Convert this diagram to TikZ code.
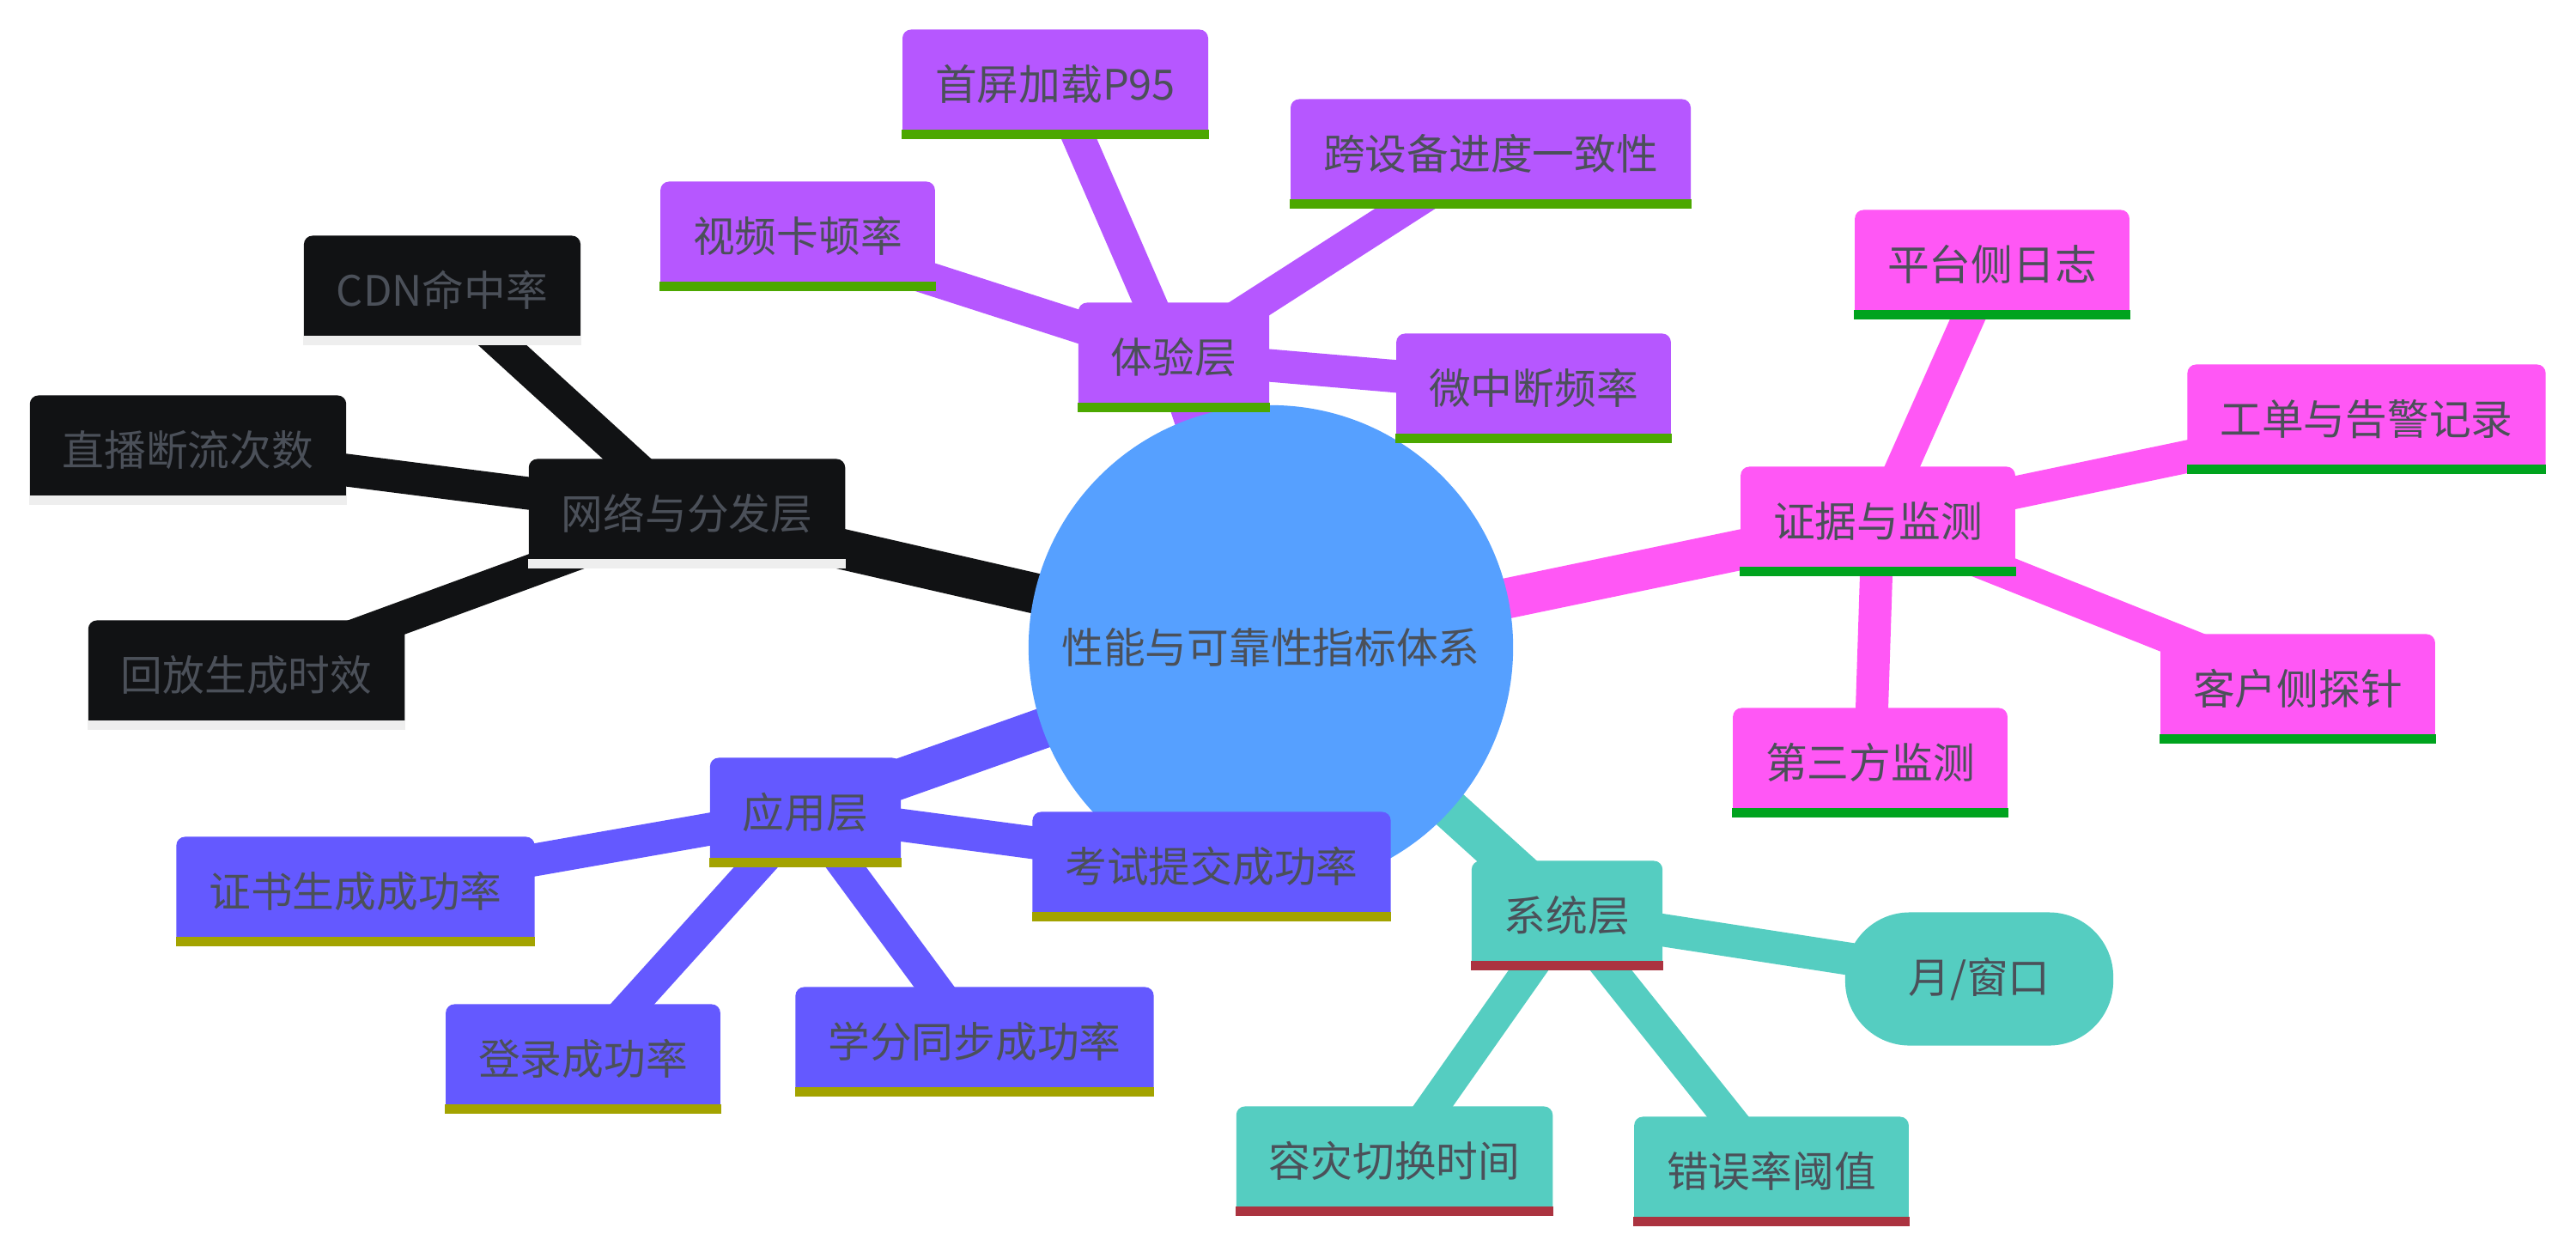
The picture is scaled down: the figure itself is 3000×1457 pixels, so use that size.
\documentclass[tikz,border=0pt]{standalone}
\usepackage{fontspec}
\setmainfont{Noto Sans CJK SC}
\usetikzlibrary{backgrounds}

\definecolor{rootblue}{HTML}{56A0FF}
\definecolor{purp}{HTML}{B657FF}
\definecolor{inky}{HTML}{111214}
\definecolor{magen}{HTML}{FF57F5}
\definecolor{indig}{HTML}{6459FF}
\definecolor{tealc}{HTML}{55CDC1}
\definecolor{ulgreen}{HTML}{4CA800}
\definecolor{ulgrey}{HTML}{EEEEEE}
\definecolor{ulgreentwo}{HTML}{00A31E}
\definecolor{ulolive}{HTML}{A3A300}
\definecolor{ulred}{HTML}{AB3340}
\definecolor{txtgrey}{HTML}{4B5059}

\tikzset{
  box/.style={rectangle, rounded corners=0.1cm, inner xsep=0.38cm, inner ysep=0pt,
    minimum height=1.27cm, text height=0.42cm, text depth=0.05cm},
  trunk/.style={line width=0.47cm},
  twig/.style={line width=0.38cm}
}

\begin{document}
\begin{tikzpicture}[x=0.01cm, y=-0.01cm, text=txtgrey, font=\fontsize{13.86pt}{16pt}\selectfont]
        \useasboundingbox (0,0) rectangle (3000,1457);

        \node[circle, fill=rootblue, minimum size=5.64cm, inner sep=0pt] (root) at (1480,754) {性能与可靠性指标体系};

        \node[box, fill=purp] (tiyan) at (1367,416) {体验层};
        \node[box, fill=purp] (kadun) at (929,275) {视频卡顿率};
        \node[box, fill=purp] (shouping) at (1229,98) {首屏加载P95};
        \node[box, fill=purp] (kuashebei) at (1736,179) {跨设备进度一致性};
        \node[box, fill=purp] (weizhongduan) at (1786,452) {微中断频率};

        \node[box, fill=inky] (wangluo) at (800,598) {网络与分发层};
        \node[box, fill=inky] (cdn) at (515,338) {CDN命中率};
        \node[box, fill=inky] (duanliu) at (219,524) {直播断流次数};
        \node[box, fill=inky] (huifang) at (287,786) {回放生成时效};

        \node[box, fill=magen] (zhengju) at (2187,607) {证据与监测};
        \node[box, fill=magen] (rizhi) at (2320,308) {平台侧日志};
        \node[box, fill=magen] (gongdan) at (2756,488) {工单与告警记录};
        \node[box, fill=magen] (tanzhen) at (2676,802) {客户侧探针};
        \node[box, fill=magen] (disanfang) at (2178,888) {第三方监测};

        \node[box, fill=indig] (yingyong) at (938,946) {应用层};
        \node[box, fill=indig] (zhengshu) at (414,1038) {证书生成成功率};
        \node[box, fill=indig] (kaoshi) at (1411,1009) {考试提交成功率};
        \node[box, fill=indig] (denglu) at (679,1233) {登录成功率};
        \node[box, fill=indig] (xuefen) at (1135,1213) {学分同步成功率};

        \node[box, fill=tealc] (xitong) at (1825,1066) {系统层};
        \node[rectangle, rounded corners=0.75cm, fill=tealc, minimum width=3.12cm, minimum height=1.55cm] (yuechuang) at (2305,1140) {月/窗口};
        \node[box, fill=tealc] (rongzai) at (1624,1352) {容灾切换时间};
        \node[box, fill=tealc] (cuowu) at (2063,1364) {错误率阈值};

        \begin{pgfonlayer}{background}
          \fill[white] (0,0) rectangle (3000,1457);
          \draw[trunk, purp] (root.center) -- (tiyan.center);
          \draw[trunk, inky] (root.center) -- (wangluo.center);
          \draw[trunk, magen] (root.center) -- (zhengju.center);
          \draw[trunk, indig] (root.center) -- (yingyong.center);
          \draw[trunk, tealc] (root.center) -- (xitong.center);
          \draw[twig, purp] (tiyan.center) -- (kadun.center) (tiyan.center) -- (shouping.center)
            (tiyan.center) -- (kuashebei.center) (tiyan.center) -- (weizhongduan.center);
          \draw[twig, inky] (wangluo.center) -- (cdn.center) (wangluo.center) -- (duanliu.center)
            (wangluo.center) -- (huifang.center);
          \draw[twig, magen] (zhengju.center) -- (rizhi.center) (zhengju.center) -- (gongdan.center)
            (zhengju.center) -- (tanzhen.center) (zhengju.center) -- (disanfang.center);
          \draw[twig, indig] (yingyong.center) -- (zhengshu.center) (yingyong.center) -- (kaoshi.center)
            (yingyong.center) -- (denglu.center) (yingyong.center) -- (xuefen.center);
          \draw[twig, tealc] (xitong.center) -- (yuechuang.center) (xitong.center) -- (rongzai.center)
            (xitong.center) -- (cuowu.center);
        \end{pgfonlayer}

        \foreach \n in {tiyan,kadun,shouping,kuashebei,weizhongduan}
          \fill[ulgreen] (\n.south west) rectangle ([yshift=0.11cm]\n.south east);
        \foreach \n in {wangluo,cdn,duanliu,huifang}
          \fill[ulgrey] (\n.south west) rectangle ([yshift=0.11cm]\n.south east);
        \foreach \n in {zhengju,rizhi,gongdan,tanzhen,disanfang}
          \fill[ulgreentwo] (\n.south west) rectangle ([yshift=0.11cm]\n.south east);
        \foreach \n in {yingyong,zhengshu,kaoshi,denglu,xuefen}
          \fill[ulolive] (\n.south west) rectangle ([yshift=0.11cm]\n.south east);
        \foreach \n in {xitong,rongzai,cuowu}
          \fill[ulred] (\n.south west) rectangle ([yshift=0.11cm]\n.south east);

      \end{tikzpicture}
\end{document}
